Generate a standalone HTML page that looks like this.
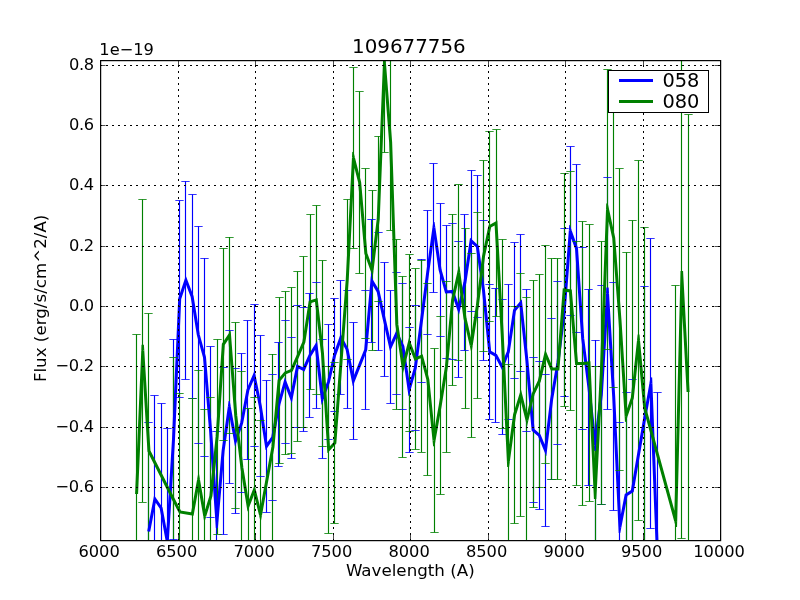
<!DOCTYPE html>
<html lang="en">
<head>
<meta charset="utf-8">
<title>109677756</title>
<style>
html,body{margin:0;padding:0;background:#fff;}
body{width:800px;height:600px;overflow:hidden;}
svg{display:block;}
</style>
</head>
<body>
<svg width="800" height="600" viewBox="0 0 800 600" style="display:block">
<defs><clipPath id="ax"><rect x="100" y="60" width="620" height="480"/></clipPath></defs>
<rect x="0" y="0" width="800" height="600" fill="#ffffff"/>
<g clip-path="url(#ax)">
<path d="M148.5 422.5V640.5M154.5 395.4V602.6M161.5 403.4V612.6M167.5 428.5V654.5M173.5 339.4V539.4M179.5 200.4V397.4M185.5 181.2V379.4M192.5 194.4V398.4M198.5 226.2V443.4M204.5 258.2V456.4M210.5 346.4V517.4M216.5 431.4V612.6M223.5 367.4V534.4M229.5 330.4V483.4M235.5 368.4V513.4M241.5 353.4V492.4M247.5 320.4V459.4M254.5 304.4V446.4M260.5 335.4V476.4M266.5 380.4V512.4M272.5 374.4V500.4M278.5 342.4V466.4M285.5 320.4V443.4M291.5 337.4V458.4M297.5 305.4V427.4M303.5 307.4V431.4M309.5 293.4V417.4M316.5 282.4V408.4M322.5 339.4V458.4M328.5 324.4V439.4M334.5 298.4V411.4M340.5 280.4V394.4M347.5 290.4V408.4M353.5 322.4V439.4M365.5 290.4V409.4M371.5 219.4V342.4M378.5 232.4V350.4M384.5 262.4V376.4M390.5 290.4V403.4M396.5 272.4V394.4M402.5 283.4V409.4M409.5 327.4V452.4M415.5 305.4V430.4M421.5 259V382M427.5 210.4V334.4M433.5 163.4V292.4M440.5 203.4V336.4M446.5 225.4V358.4M452.5 223.4V359.4M458.5 241.4V377.4M464.5 214.4V350.4M471.5 170.2V311.4M477.5 175.4V317.4M483.5 220.4V360.4M489.5 284.4V419.4M495.5 288.4V422.4M502.5 299.4V434.4M508.5 284.4V419.4M514.5 242.4V378.4M520.5 234.4V371.4M526.5 289.4V431.4M533.5 357.4V502.4M539.5 361.4V509.4M545.5 374.4V526.4M551.5 318.4V479.4M557.5 281.4V444.4M564.5 228.4V396.4M570.5 146.4V315.4M576.5 164.4V332.4M582.5 247.4V429.4M588.5 289.4V485.4M595.5 340V550M601.5 285.4V504.4M607.5 177.4V409.4M613.5 282.4V510.4M619.5 422.4V631.6M626.5 392.4V597.6M632.5 379.4V602.6M644.5 286V550M650.5 238.4V528.4M657.5 392.4V697.6" stroke="#0000ff" stroke-width="1.15" fill="none"/>
<path d="M136.5 334.4V653.6M142.5 199.4V502M148.5 313.4V588.6M173.5 357.4V642.6M179.5 393.4V630.6M192.5 398.4V629.6M198.5 370.4V589.6M204.5 409.4V622.6M210.5 397.4V594.6M217.5 339.4V534M223.5 248.2V440.4M229.5 237V433M235.5 322.4V508M241.5 371.4V564.6M248.5 408.4V603.6M254.5 397.4V582.6M260.5 420V610M272.5 354V540M279.5 297.4V463.4M285.5 291.4V454.4M291.5 287.4V453.4M297.5 271.4V441.4M303.5 256.4V427.6M310.5 214.4V389.4M316.5 205.4V394.4M322.5 260.4V446.4M328.5 366V533.4M334.5 362.4V523.4M347.5 199.4V359.4M353.5 67.4V248.4M359.5 91.4V273.4M365.5 168.4V338.4M372.5 190.4V350.4M378.5 136.2V301.8M384.5 -26.4V152.4M390.5 54.4V230.4M396.5 239.4V409.4M402.5 276.4V457.4M409.5 254.4V431.4M415.5 268.4V449.4M421.5 260.4V452M427.5 283.4V475.4M434.5 348.4V532.4M440.5 316.4V494.4M446.5 281.4V452.4M452.5 214.4V385.4M458.5 184.4V360.4M465.5 228.4V408.4M471.5 253.4V437.4M477.5 212.4V398.4M483.5 160.4V351.4M489.5 131.4V321.4M496.5 129.4V316.4M502.5 239.4V428.4M508.5 364.4V557.6M514.5 306V523.4M520.5 273.4V516.4M526.5 297V543M533.5 280.4V507.4M539.5 274.4V487.4M545.5 245.4V463.4M551.5 258.4V479.4M557.5 258.4V479.4M564.5 173.4V406.4M570.5 171.4V410.4M576.5 241.4V485.4M582.5 221.4V505.4M589.5 224.4V501.4M595.5 366.5V619.5M601.5 241.4V504.4M607.5 69.4V349.4M613.5 88.6V387.4M619.5 168.4V470.4M626.5 252.4V579.6M632.5 220.4V575.6M638.5 160.4V520.4M644.5 227.4V588.6M675.5 285.4V756.6M681.5 15.6V538.4M688.5 114.4V669.6" stroke="#008000" stroke-width="1.15" fill="none"/>
<polyline points="148.7,531.5 154.9,499 161.1,508 167.3,541.5 173.5,439.4 179.7,298.9 185.9,280.3 192.1,296.4 198.3,334.8 204.5,357.3 210.7,431.9 216.9,522 223.1,450.9 229.3,406.9 235.5,440.9 241.7,422.9 247.9,389.9 254.1,375.4 260.3,405.9 266.5,446.4 272.7,437.4 278.9,404.4 285.1,381.9 291.3,397.9 297.5,366.4 303.7,369.4 309.9,355.4 316.1,345.4 322.3,398.9 328.5,381.9 334.7,354.9 340.9,337.4 347.1,349.4 353.3,380.9 365.7,349.9 371.9,280.9 378.1,291.4 384.3,319.4 390.5,346.9 396.7,333.4 402.9,346.4 409.1,389.9 415.3,367.9 421.5,320.5 427.7,272.4 433.9,227.9 440.1,269.9 446.3,291.9 452.5,291.4 458.7,309.4 464.9,282.4 471.1,240.8 477.3,246.4 483.5,290.4 489.7,351.9 495.9,355.4 502.1,366.9 508.3,351.9 514.5,310.4 520.7,302.9 526.9,360.4 533.1,429.9 539.3,435.4 545.5,450.4 551.7,398.9 557.9,362.9 564.1,312.4 570.3,230.9 576.5,248.4 582.7,338.4 588.9,387.4 595.1,445 601.3,394.9 607.5,293.4 613.7,396.4 619.9,527 626.1,495 632.3,491 644.7,418 650.9,383.4 657.1,545" fill="none" stroke="#0000ff" stroke-width="3" stroke-linejoin="miter" stroke-miterlimit="4" stroke-linecap="butt"/>
<path d="M165.83 541.77L166.89 547.54L168.44 547.44L168.8 541.59ZM215.4 522.1L215.81 527.99L217.88 528.01L218.39 522.13ZM227.81 406.69L228.63 400.91L229.73 400.89L230.78 406.63ZM320.81 399.07L321.48 404.84L321.72 404.87L323.71 399.41ZM407.62 390.11L408.44 395.87L408.97 395.9L410.54 390.31ZM432.41 227.69L433.22 221.9L434.53 221.9L435.38 227.68ZM568.8 230.79L569.25 224.99L569.77 224.92L571.71 230.4ZM593.61 445.16L594.24 450.99L595.87 451.01L596.59 445.18ZM606 293.31L606.36 287.4L608.64 287.4L609 293.31ZM618.4 527.07L618.68 532.93L620.26 533.04L621.37 527.29ZM649.42 383.14L650.46 377.35L652.17 377.47L652.4 383.34Z" fill="#0000ff" stroke="none"/>
<path d="M144.33 422.5H152.67M144.33 640.5H152.67M150.33 395.5H158.67M150.33 602.5H158.67M157.33 403.5H165.67M157.33 612.5H165.67M163.33 428.5H171.67M163.33 654.5H171.67M169.33 339.5H177.67M169.33 539.5H177.67M175.33 200.5H183.67M175.33 397.5H183.67M181.33 181.5H189.67M181.33 379.5H189.67M188.33 194.5H196.67M188.33 398.5H196.67M194.33 226.5H202.67M194.33 443.5H202.67M200.33 258.5H208.67M200.33 456.5H208.67M206.33 346.5H214.67M206.33 517.5H214.67M212.33 431.5H220.67M212.33 612.5H220.67M219.33 367.5H227.67M219.33 534.5H227.67M225.33 330.5H233.67M225.33 483.5H233.67M231.33 368.5H239.67M231.33 513.5H239.67M237.33 353.5H245.67M237.33 492.5H245.67M243.33 320.5H251.67M243.33 459.5H251.67M250.33 304.5H258.67M250.33 446.5H258.67M256.33 335.5H264.67M256.33 476.5H264.67M262.33 380.5H270.67M262.33 512.5H270.67M268.33 374.5H276.67M268.33 500.5H276.67M274.33 342.5H282.67M274.33 466.5H282.67M281.33 320.5H289.67M281.33 443.5H289.67M287.33 337.5H295.67M287.33 458.5H295.67M293.33 305.5H301.67M293.33 427.5H301.67M299.33 307.5H307.67M299.33 431.5H307.67M305.33 293.5H313.67M305.33 417.5H313.67M312.33 282.5H320.67M312.33 408.5H320.67M318.33 339.5H326.67M318.33 458.5H326.67M324.33 324.5H332.67M324.33 439.5H332.67M330.33 298.5H338.67M330.33 411.5H338.67M336.33 280.5H344.67M336.33 394.5H344.67M343.33 290.5H351.67M343.33 408.5H351.67M349.33 322.5H357.67M349.33 439.5H357.67M361.33 290.5H369.67M361.33 409.5H369.67M367.33 219.5H375.67M367.33 342.5H375.67M374.33 232.5H382.67M374.33 350.5H382.67M380.33 262.5H388.67M380.33 376.5H388.67M386.33 290.5H394.67M386.33 403.5H394.67M392.33 272.5H400.67M392.33 394.5H400.67M398.33 283.5H406.67M398.33 409.5H406.67M405.33 327.5H413.67M405.33 452.5H413.67M411.33 305.5H419.67M411.33 430.5H419.67M417.33 259.5H425.67M417.33 382.5H425.67M423.33 210.5H431.67M423.33 334.5H431.67M429.33 163.5H437.67M429.33 292.5H437.67M436.33 203.5H444.67M436.33 336.5H444.67M442.33 225.5H450.67M442.33 358.5H450.67M448.33 223.5H456.67M448.33 359.5H456.67M454.33 241.5H462.67M454.33 377.5H462.67M460.33 214.5H468.67M460.33 350.5H468.67M467.33 170.5H475.67M467.33 311.5H475.67M473.33 175.5H481.67M473.33 317.5H481.67M479.33 220.5H487.67M479.33 360.5H487.67M485.33 284.5H493.67M485.33 419.5H493.67M491.33 288.5H499.67M491.33 422.5H499.67M498.33 299.5H506.67M498.33 434.5H506.67M504.33 284.5H512.67M504.33 419.5H512.67M510.33 242.5H518.67M510.33 378.5H518.67M516.33 234.5H524.67M516.33 371.5H524.67M522.33 289.5H530.67M522.33 431.5H530.67M529.33 357.5H537.67M529.33 502.5H537.67M535.33 361.5H543.67M535.33 509.5H543.67M541.33 374.5H549.67M541.33 526.5H549.67M547.33 318.5H555.67M547.33 479.5H555.67M553.33 281.5H561.67M553.33 444.5H561.67M560.33 228.5H568.67M560.33 396.5H568.67M566.33 146.5H574.67M566.33 315.5H574.67M572.33 164.5H580.67M572.33 332.5H580.67M578.33 247.5H586.67M578.33 429.5H586.67M584.33 289.5H592.67M584.33 485.5H592.67M591.33 340.5H599.67M591.33 550.5H599.67M597.33 285.5H605.67M597.33 504.5H605.67M603.33 177.5H611.67M603.33 409.5H611.67M609.33 282.5H617.67M609.33 510.5H617.67M615.33 422.5H623.67M615.33 631.5H623.67M622.33 392.5H630.67M622.33 597.5H630.67M628.33 379.5H636.67M628.33 602.5H636.67M640.33 286.5H648.67M640.33 550.5H648.67M646.33 238.5H654.67M646.33 528.5H654.67M653.33 392.5H661.67M653.33 697.5H661.67" stroke="#0000ff" stroke-width="0.8" fill="none"/>
<polyline points="136.57,494 142.77,350.7 148.96,451 173.75,500 179.95,512 192.34,514 198.54,480 204.74,516 210.93,496 217.13,436.7 223.33,344.3 229.52,335 235.72,415.2 241.92,468 248.11,506 254.31,490 260.51,515 272.9,447 279.1,380.4 285.29,372.9 291.49,370.4 297.69,356.4 303.88,342 310.08,301.9 316.28,299.9 322.48,353.4 328.67,449.7 334.87,442.9 347.26,279.4 353.46,157.9 359.66,182.4 365.85,253.4 372.05,270.4 378.25,219 384.44,63 390.64,142.4 396.84,324.4 403.03,366.9 409.23,342.9 415.43,358.9 421.62,356.2 427.82,379.4 434.02,440.4 440.22,405.4 446.41,366.9 452.61,299.9 458.81,272.4 465,318.4 471.2,345.4 477.4,305.4 483.59,255.9 489.79,226.4 495.99,222.9 502.18,333.9 508.38,461 514.58,414.7 520.77,394.9 526.97,420 533.17,393.9 539.36,380.9 545.56,354.4 551.76,368.9 557.96,368.9 564.15,289.9 570.35,290.9 576.55,363.4 582.74,363.4 588.94,362.9 595.14,493 601.33,372.9 607.53,209.4 613.73,238 619.92,319.4 626.12,416 632.32,398 638.51,340.4 644.71,408 675.7,521 681.89,277 688.09,392" fill="none" stroke="#008000" stroke-width="3" stroke-linejoin="miter" stroke-miterlimit="4" stroke-linecap="butt"/>
<path d="M141.27 350.64L141.52 344.71L143.9 344.69L144.26 350.61ZM197.06 479.73L198.11 474L199.03 474L200.02 479.75ZM203.26 516.25L204.24 521.98L204.45 521.99L206.17 516.44ZM259.05 515.36L260.45 521L260.94 520.99L261.98 515.27ZM351.96 157.82L352.26 151.99L353.48 151.87L354.91 157.53ZM370.64 270.91L372.63 276.37L372.84 276.35L373.54 270.58ZM382.94 62.94L383.18 57.02L385.48 56.98L385.94 62.88ZM401.55 367.12L402.39 372.87L403.03 372.91L404.49 367.28ZM432.53 440.55L433.12 446.37L434.48 446.42L435.5 440.66ZM457.34 272.07L458.62 266.39L459.51 266.43L460.29 272.2ZM469.74 345.74L471.04 351.41L471.79 351.38L472.68 345.63ZM506.88 461.07L507.17 466.95L509.09 467.04L509.87 461.2ZM525.51 420.36L526.91 426L527.09 426L528.43 420.35ZM593.64 493.07L593.92 499L596.33 499L596.63 493.08ZM606.03 209.34L606.25 203.49L607.76 203.36L609 209.08ZM624.62 416.1L625 421.9L625.64 421.99L627.54 416.49ZM637.02 340.24L637.65 334.39L639.47 334.41L640.01 340.26ZM674.25 521.4L675.79 527.03L677.05 526.88L677.19 521.04ZM680.39 276.96L680.54 271.02L683.07 270.98L683.39 276.92Z" fill="#008000" stroke="none"/>
<path d="M132.33 334.5H140.67M132.33 653.5H140.67M138.33 199.5H146.67M138.33 502.5H146.67M144.33 313.5H152.67M144.33 588.5H152.67M169.33 357.5H177.67M169.33 642.5H177.67M175.33 393.5H183.67M175.33 630.5H183.67M188.33 398.5H196.67M188.33 629.5H196.67M194.33 370.5H202.67M194.33 589.5H202.67M200.33 409.5H208.67M200.33 622.5H208.67M206.33 397.5H214.67M206.33 594.5H214.67M213.33 339.5H221.67M213.33 534.5H221.67M219.33 248.5H227.67M219.33 440.5H227.67M225.33 237.5H233.67M225.33 433.5H233.67M231.33 322.5H239.67M231.33 508.5H239.67M237.33 371.5H245.67M237.33 564.5H245.67M244.33 408.5H252.67M244.33 603.5H252.67M250.33 397.5H258.67M250.33 582.5H258.67M256.33 420.5H264.67M256.33 610.5H264.67M268.33 354.5H276.67M268.33 540.5H276.67M275.33 297.5H283.67M275.33 463.5H283.67M281.33 291.5H289.67M281.33 454.5H289.67M287.33 287.5H295.67M287.33 453.5H295.67M293.33 271.5H301.67M293.33 441.5H301.67M299.33 256.5H307.67M299.33 427.5H307.67M306.33 214.5H314.67M306.33 389.5H314.67M312.33 205.5H320.67M312.33 394.5H320.67M318.33 260.5H326.67M318.33 446.5H326.67M324.33 366.5H332.67M324.33 533.5H332.67M330.33 362.5H338.67M330.33 523.5H338.67M343.33 199.5H351.67M343.33 359.5H351.67M349.33 67.5H357.67M349.33 248.5H357.67M355.33 91.5H363.67M355.33 273.5H363.67M361.33 168.5H369.67M361.33 338.5H369.67M368.33 190.5H376.67M368.33 350.5H376.67M374.33 136.5H382.67M374.33 301.5H382.67M380.33 -26.5H388.67M380.33 152.5H388.67M386.33 54.5H394.67M386.33 230.5H394.67M392.33 239.5H400.67M392.33 409.5H400.67M398.33 276.5H406.67M398.33 457.5H406.67M405.33 254.5H413.67M405.33 431.5H413.67M411.33 268.5H419.67M411.33 449.5H419.67M417.33 260.5H425.67M417.33 452.5H425.67M423.33 283.5H431.67M423.33 475.5H431.67M430.33 348.5H438.67M430.33 532.5H438.67M436.33 316.5H444.67M436.33 494.5H444.67M442.33 281.5H450.67M442.33 452.5H450.67M448.33 214.5H456.67M448.33 385.5H456.67M454.33 184.5H462.67M454.33 360.5H462.67M461.33 228.5H469.67M461.33 408.5H469.67M467.33 253.5H475.67M467.33 437.5H475.67M473.33 212.5H481.67M473.33 398.5H481.67M479.33 160.5H487.67M479.33 351.5H487.67M485.33 131.5H493.67M485.33 321.5H493.67M492.33 129.5H500.67M492.33 316.5H500.67M498.33 239.5H506.67M498.33 428.5H506.67M504.33 364.5H512.67M504.33 557.5H512.67M510.33 306.5H518.67M510.33 523.5H518.67M516.33 273.5H524.67M516.33 516.5H524.67M522.33 297.5H530.67M522.33 543.5H530.67M529.33 280.5H537.67M529.33 507.5H537.67M535.33 274.5H543.67M535.33 487.5H543.67M541.33 245.5H549.67M541.33 463.5H549.67M547.33 258.5H555.67M547.33 479.5H555.67M553.33 258.5H561.67M553.33 479.5H561.67M560.33 173.5H568.67M560.33 406.5H568.67M566.33 171.5H574.67M566.33 410.5H574.67M572.33 241.5H580.67M572.33 485.5H580.67M578.33 221.5H586.67M578.33 505.5H586.67M585.33 224.5H593.67M585.33 501.5H593.67M591.33 366.5H599.67M591.33 619.5H599.67M597.33 241.5H605.67M597.33 504.5H605.67M603.33 69.5H611.67M603.33 349.5H611.67M609.33 88.5H617.67M609.33 387.5H617.67M615.33 168.5H623.67M615.33 470.5H623.67M622.33 252.5H630.67M622.33 579.5H630.67M628.33 220.5H636.67M628.33 575.5H636.67M634.33 160.5H642.67M634.33 520.5H642.67M640.33 227.5H648.67M640.33 588.5H648.67M671.33 285.5H679.67M671.33 756.5H679.67M677.33 15.5H685.67M677.33 538.5H685.67M684.33 114.5H692.67M684.33 669.5H692.67" stroke="#008000" stroke-width="0.8" fill="none"/>
</g>
<path d="M178.5 541V60M255.5 541V60M333.5 541V60M410.5 541V60M488.5 541V60M565.5 541V60M643.5 541V60M100 65.5H720M100 125.5H720M100 185.5H720M100 246.5H720M100 306.5H720M100 366.5H720M100 427.5H720M100 487.5H720" stroke="#000" stroke-width="1" stroke-dasharray="2 4" fill="none"/>
<path d="M100.5 540v-5.5M100.5 60v5.5M178.5 540v-5.5M178.5 60v5.5M255.5 540v-5.5M255.5 60v5.5M333.5 540v-5.5M333.5 60v5.5M410.5 540v-5.5M410.5 60v5.5M488.5 540v-5.5M488.5 60v5.5M565.5 540v-5.5M565.5 60v5.5M643.5 540v-5.5M643.5 60v5.5M720.5 540v-5.5M720.5 60v5.5M100 65.5h5.5M720 65.5h-5.5M100 125.5h5.5M720 125.5h-5.5M100 185.5h5.5M720 185.5h-5.5M100 246.5h5.5M720 246.5h-5.5M100 306.5h5.5M720 306.5h-5.5M100 366.5h5.5M720 366.5h-5.5M100 427.5h5.5M720 427.5h-5.5M100 487.5h5.5M720 487.5h-5.5" stroke="#000" stroke-width="0.7" fill="none"/>
<rect x="100.62" y="60.62" width="620" height="480" fill="none" stroke="#000" stroke-width="1.2"/>
<g font-family="'DejaVu Sans','Liberation Sans',sans-serif" fill="#000">
<text x="99.1" y="556.6" font-size="16.25" text-anchor="middle">6000</text>
<text x="176.6" y="556.6" font-size="16.25" text-anchor="middle">6500</text>
<text x="254.1" y="556.6" font-size="16.25" text-anchor="middle">7000</text>
<text x="331.6" y="556.6" font-size="16.25" text-anchor="middle">7500</text>
<text x="409.1" y="556.6" font-size="16.25" text-anchor="middle">8000</text>
<text x="486.6" y="556.6" font-size="16.25" text-anchor="middle">8500</text>
<text x="564.1" y="556.6" font-size="16.25" text-anchor="middle">9000</text>
<text x="641.6" y="556.6" font-size="16.25" text-anchor="middle">9500</text>
<text x="719.1" y="556.6" font-size="16.25" text-anchor="middle">10000</text>
<text x="94" y="69.9" font-size="16.25" text-anchor="end" textLength="24.9" lengthAdjust="spacing">0.8</text>
<text x="94" y="129.9" font-size="16.25" text-anchor="end" textLength="24.9" lengthAdjust="spacing">0.6</text>
<text x="94" y="189.9" font-size="16.25" text-anchor="end" textLength="24.9" lengthAdjust="spacing">0.4</text>
<text x="94" y="250.9" font-size="16.25" text-anchor="end" textLength="24.9" lengthAdjust="spacing">0.2</text>
<text x="94" y="310.9" font-size="16.25" text-anchor="end" textLength="24.9" lengthAdjust="spacing">0.0</text>
<text x="94" y="370.9" font-size="16.25" text-anchor="end" textLength="38.6" lengthAdjust="spacing">−0.2</text>
<text x="94" y="431.9" font-size="16.25" text-anchor="end" textLength="38.6" lengthAdjust="spacing">−0.4</text>
<text x="94" y="491.9" font-size="16.25" text-anchor="end" textLength="38.6" lengthAdjust="spacing">−0.6</text>
<text x="99.3" y="55" font-size="16.25">1e−19</text>
<text x="408.9" y="52.8" font-size="19.85" text-anchor="middle">109677756</text>
<text x="410.3" y="576" font-size="16.7" text-anchor="middle">Wavelength (A)</text>
<text transform="translate(46,298.4) rotate(-90)" font-size="16.7" text-anchor="middle">Flux (erg/s/cm^2/A)</text>
<rect x="608.5" y="70.5" width="100" height="42" fill="#fff" stroke="#000" stroke-width="1"/>
<path d="M619 80.5H653" stroke="#0000ff" stroke-width="3"/>
<path d="M619 101.5H653" stroke="#008000" stroke-width="3"/>
<text x="662.4" y="86.8" font-size="19.4">058</text>
<text x="662.4" y="108" font-size="19.4">080</text>
</g>
</svg>
</body>
</html>
